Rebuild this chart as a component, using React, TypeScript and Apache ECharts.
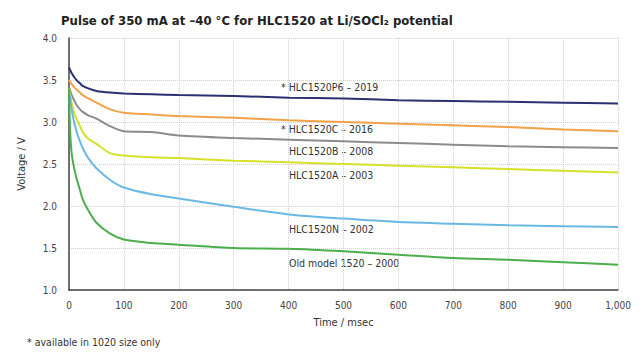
import React, { useEffect, useRef } from "react";
import * as echarts from "echarts";

const times = [0, 2, 5, 10, 15, 20, 25, 35, 50, 75, 100, 150, 200, 300, 400, 500, 600, 700, 800, 900, 1000];

const p6 = [3.65, 3.62, 3.58, 3.53, 3.49, 3.46, 3.43, 3.4, 3.37, 3.35, 3.34, 3.33, 3.32, 3.31, 3.29, 3.28, 3.26, 3.25, 3.24, 3.23, 3.22];
const c2016 = [3.5, 3.48, 3.45, 3.41, 3.38, 3.35, 3.32, 3.28, 3.23, 3.15, 3.11, 3.09, 3.07, 3.05, 3.02, 3.0, 2.98, 2.96, 2.94, 2.91, 2.89];
const b2008 = [3.42, 3.38, 3.32, 3.25, 3.19, 3.15, 3.12, 3.08, 3.04, 2.95, 2.89, 2.88, 2.84, 2.81, 2.79, 2.77, 2.75, 2.73, 2.71, 2.7, 2.69];
const a2003 = [3.4, 3.33, 3.22, 3.1, 3.02, 2.95, 2.88, 2.8, 2.74, 2.63, 2.6, 2.58, 2.57, 2.54, 2.52, 2.5, 2.48, 2.46, 2.44, 2.42, 2.4];
const n2002 = [3.38, 3.28, 3.14, 2.98, 2.86, 2.77, 2.69, 2.57, 2.45, 2.31, 2.22, 2.14, 2.09, 1.99, 1.9, 1.85, 1.81, 1.79, 1.77, 1.76, 1.75];
const old2000 = [3.4, 2.9, 2.62, 2.43, 2.3, 2.19, 2.08, 1.95, 1.8, 1.67, 1.6, 1.56, 1.54, 1.5, 1.49, 1.46, 1.42, 1.38, 1.36, 1.33, 1.3];

const seriesNames = ["* HLC1520P6 – 2019", "* HLC1520C – 2016", "HLC1520B – 2008", "HLC1520A – 2003", "HLC1520N – 2002", "Old model 1520 – 2000"];
const seriesValues = [p6, c2016, b2008, a2003, n2002, old2000];
const seriesColors = ["#2c2f70", "#f2a248", "#8c8c8c", "#d6e12a", "#6ab8e4", "#4cae4c"];
const labelPos: [number, number][] = [[281, 88], [281, 130], [289, 152], [289, 176], [289, 230], [289, 264]];

const NARROW = "'Liberation Sans Narrow', 'DejaVu Sans Condensed', 'Open Sans', sans-serif";

export default function App() {
  const ref = useRef<HTMLDivElement>(null);
  useEffect(() => {
    const chart = echarts.init(ref.current!, null, { renderer: "svg" });
    const series = seriesValues.map((vals, i) => ({
      name: seriesNames[i],
      type: "line",
      data: times.map((t, j) => [t, vals[j]]),
      showSymbol: false,
      smooth: 0.3,
      lineStyle: { color: seriesColors[i], width: 2 },
      itemStyle: { color: seriesColors[i] },
    }));
    const graphics: any[] = seriesNames.map((n, i) => ({
      type: "text",
      left: labelPos[i][0],
      top: labelPos[i][1] - 7,
      style: { text: n, fill: "#333", font: `10.5px ${NARROW}` },
    }));
    graphics.push({
      type: "text",
      left: 27,
      top: 336,
      style: { text: "* available in 1020 size only", fill: "#333", font: `10.5px ${NARROW}` },
    });
    chart.setOption({
      animation: false,
      backgroundColor: "#fff",
      title: {
        text: "Pulse of 350 mA at –40 °C for HLC1520 at Li/SOCl₂ potential",
        left: 56,
        top: 9,
        textStyle: { fontFamily: NARROW, fontWeight: "bold", fontSize: 13, color: "#222" },
      },
      grid: { left: 69, right: 22, top: 38, bottom: 65 },
      xAxis: {
        type: "value",
        min: 0,
        max: 1000,
        interval: 100,
        name: "Time / msec",
        nameLocation: "middle",
        nameGap: 27,
        nameTextStyle: { fontFamily: NARROW, fontSize: 11, color: "#333" },
        axisLine: { show: true, lineStyle: { color: "#444", width: 1.5 } },
        axisTick: { show: false },
        axisLabel: {
          fontFamily: NARROW, fontSize: 10, color: "#444", margin: 10,
          formatter: (v: number) => v.toLocaleString("en-US"),
        },
        splitLine: { show: true, lineStyle: { color: "#d0d0d0", type: "dotted", width: 1 } },
      },
      yAxis: {
        type: "value",
        min: 1,
        max: 4,
        interval: 0.5,
        name: "Voltage / V",
        nameLocation: "middle",
        nameGap: 42,
        nameTextStyle: { fontFamily: NARROW, fontSize: 11, color: "#333" },
        axisLine: { show: true, lineStyle: { color: "#444", width: 1.5 } },
        axisTick: { show: false },
        axisLabel: {
          fontFamily: NARROW, fontSize: 10, color: "#444", margin: 12,
          formatter: (v: number) => v.toFixed(1),
        },
        splitLine: { show: true, lineStyle: { color: "#d0d0d0", type: "dotted", width: 1 } },
      },
      series,
      graphic: graphics,
    });
    return () => chart.dispose();
  }, []);
  return <div ref={ref} style={{ width: 640, height: 355, position: "absolute", left: 0, top: 0 }} />;
}
